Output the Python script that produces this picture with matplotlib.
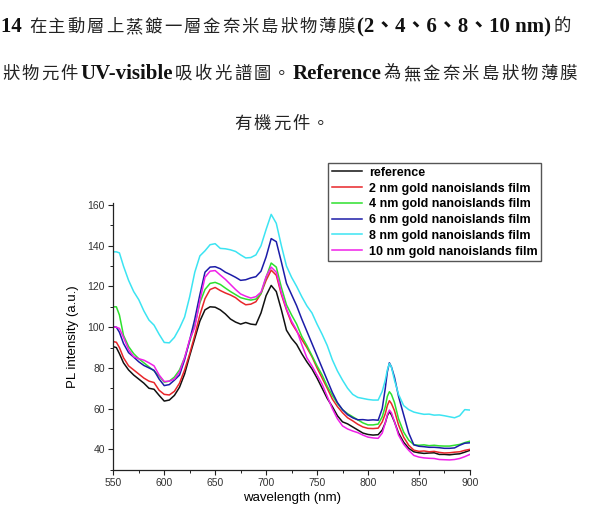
import matplotlib
matplotlib.use("Agg")
import matplotlib.pyplot as plt
from matplotlib.ticker import MultipleLocator

# wavelength grid (nm)
wavelength = [
    550, 553, 556, 560, 565, 570, 575, 580, 585, 590,
    595, 600, 605, 610, 615, 620, 625, 630, 635, 640,
    645, 650, 655, 660, 665, 670, 675, 680, 685, 690,
    695, 700, 705, 710, 715, 720, 725, 730, 735, 740,
    745, 750, 755, 760, 765, 770, 775, 780, 785, 790,
    795, 800, 805, 810, 814, 817, 819, 821, 823, 826,
    830, 835, 840, 845, 850, 855, 860, 865, 870, 875,
    880, 885, 890, 895, 900,
]

reference = [
    90.4, 90.0, 87.0, 82.5, 79.0, 76.5, 74.5, 72.5, 70.0, 69.5,
    66.5, 63.7, 64.2, 66.5, 70.5, 77.0, 86.0, 94.5, 103.0, 108.5,
    110.0, 109.8, 108.5, 106.5, 104.0, 102.5, 101.5, 102.3, 101.5, 101.2,
    107.0, 115.5, 120.5, 117.5, 108.5, 98.5, 94.5, 91.5, 87.0, 83.0,
    79.5, 75.0, 70.0, 65.0, 61.0, 56.5, 53.5, 52.5, 51.0, 49.5,
    48.0, 47.3, 47.0, 47.2, 49.5, 53.0, 56.5, 58.5, 57.0, 53.5,
    48.0, 43.5, 40.5, 38.8, 38.3, 38.0, 38.2, 38.3, 37.5, 37.5,
    37.3, 37.6, 37.8, 38.6, 39.5,
]

film_2nm = [
    92.9, 92.6, 90.0, 85.0, 81.0, 79.0, 77.0, 75.0, 73.5, 72.8,
    69.0, 67.0, 66.7, 68.5, 72.5, 79.0, 87.0, 96.0, 106.0, 114.0,
    118.5, 119.5, 118.0, 116.8, 115.8, 114.5, 112.5, 111.0, 111.3, 112.5,
    116.5, 123.0, 128.0, 125.5, 116.0, 108.5, 102.0, 98.0, 94.0, 90.0,
    85.5, 80.0, 75.0, 70.0, 64.7, 61.0, 58.0, 55.5, 54.0, 52.3,
    51.0, 50.3, 50.2, 50.4, 53.5, 57.5, 61.5, 63.9, 62.5, 59.0,
    52.0, 46.0, 42.0, 39.6, 39.0, 39.2, 38.8, 39.0, 38.5, 38.2,
    38.3, 38.6, 38.8, 39.5, 40.0,
]

film_4nm = [
    110.0, 110.0, 106.0, 96.0, 90.5, 87.0, 84.5, 82.5, 80.5, 78.5,
    76.0, 73.0, 73.5, 75.5, 79.0, 85.0, 93.0, 101.0, 112.0, 118.5,
    121.5, 122.0, 121.0, 119.2, 117.5, 116.0, 114.5, 113.8, 113.3, 113.8,
    116.5, 124.5, 131.5, 129.5, 119.5, 111.0, 106.0, 101.5, 95.5, 91.0,
    86.0, 81.0, 76.5, 71.0, 66.5, 62.5, 59.5, 57.5, 56.0, 54.5,
    53.0, 52.0, 52.0, 52.4, 56.0, 61.0, 66.0, 68.3, 67.0, 63.0,
    55.0, 48.5, 44.5, 42.3, 42.0, 42.2, 41.8, 42.0, 41.7, 41.6,
    41.6, 42.0, 42.4, 43.3, 44.0,
]

film_6nm = [
    100.2, 100.0, 97.5, 92.0, 87.5, 85.3, 83.0, 81.2, 80.0, 78.8,
    74.5, 71.3, 71.8, 74.0, 76.5, 84.0, 93.7, 104.0, 116.0, 127.0,
    129.5, 129.7, 128.7, 127.0, 125.8, 124.5, 123.0, 123.3, 124.2, 124.8,
    127.5, 134.5, 143.5, 142.0, 132.0, 121.5, 116.0, 110.5, 104.0, 98.0,
    92.0, 86.0, 80.0, 74.0, 68.0, 63.0, 59.5, 57.0, 55.5, 54.5,
    54.6, 54.3, 54.5, 54.3, 60.0, 70.0, 78.0, 82.5, 80.5, 75.5,
    66.0, 57.0, 48.0, 42.2, 41.5, 41.3, 41.0, 41.0, 40.8, 40.5,
    40.5, 40.7, 42.0, 43.0, 43.2,
]

film_8nm = [
    137.0, 137.0, 136.5, 130.0, 123.0, 117.5, 113.5, 108.0, 103.5, 101.0,
    96.5, 92.5, 92.3, 95.0, 99.5, 105.0, 115.0, 127.0, 135.0, 137.5,
    140.5, 141.0, 138.7, 138.5, 138.0, 137.2, 135.5, 134.0, 134.2, 135.5,
    140.0, 148.0, 155.4, 151.0, 140.0, 130.0, 124.5, 120.0, 115.0, 110.5,
    107.0, 101.5, 96.5, 91.0, 84.0, 78.5, 74.0, 70.0, 67.0, 65.5,
    65.0, 64.5, 64.2, 64.2, 68.5, 74.0, 79.0, 82.2, 80.5, 74.0,
    67.0, 61.5, 59.5, 58.3, 57.7, 57.2, 57.3, 56.8, 56.9, 56.5,
    56.0, 55.5, 56.5, 59.5, 59.3,
]

film_10nm = [
    100.0, 100.0, 99.4, 95.0, 89.0, 85.5, 84.5, 83.8, 82.5, 81.0,
    76.5, 73.3, 73.5, 74.5, 78.0, 85.0, 94.0, 100.0, 113.0, 124.5,
    127.5, 127.8, 125.6, 123.5, 121.0, 118.5, 116.3, 115.2, 114.3, 115.0,
    117.2, 124.8, 129.5, 127.0, 117.0, 109.0, 103.0, 98.5, 91.5, 85.0,
    81.0, 76.5, 72.0, 66.0, 60.0, 55.0, 51.5, 50.0, 49.0, 48.2,
    47.0, 46.0, 45.6, 45.4, 48.0, 53.0, 57.0, 59.3, 58.0, 53.6,
    47.0, 42.5, 39.5, 37.0, 36.2, 35.8, 35.6, 35.5, 35.0, 34.9,
    34.8, 35.0, 35.5, 36.4, 37.5,
]

labels = [
    "reference",
    "2 nm gold nanoislands film",
    "4 nm gold nanoislands film",
    "6 nm gold nanoislands film",
    "8 nm gold nanoislands film",
    "10 nm gold nanoislands film",
]
colors = ["#111111", "#e8262a", "#2ee02e", "#1c1ca8", "#3ce4f2", "#f020e8"]
spectra = [reference, film_2nm, film_4nm, film_6nm, film_8nm, film_10nm]

fig = plt.figure(figsize=(5.91, 5.17), dpi=100)
ax = fig.add_axes([0.1917, 0.0915, 0.6033, 0.5159])

for vals, col, lab in zip(spectra, colors, labels):
    ax.plot(wavelength, vals, color=col, lw=1.1, label=lab)

ax.set_xlim(550, 900)
ax.set_ylim(30, 161)
ax.spines["top"].set_visible(False)
ax.spines["right"].set_visible(False)
for s in ("left", "bottom"):
    ax.spines[s].set_color("#222222")
    ax.spines[s].set_linewidth(0.9)

ax.xaxis.set_major_locator(MultipleLocator(50))
ax.xaxis.set_minor_locator(MultipleLocator(25))
ax.yaxis.set_major_locator(MultipleLocator(20))
ax.yaxis.set_minor_locator(MultipleLocator(10))
ax.tick_params(which="major", direction="out", length=3.5, width=0.8,
               labelsize=7.5, labelcolor="#333333", color="#222222", pad=2.5)
ax.tick_params(which="minor", direction="out", length=2.2, width=0.7, color="#222222")
for lbl in ax.get_xticklabels() + ax.get_yticklabels():
    lbl.set_family("Liberation Sans")

ax.set_xlabel("wavelength (nm)", fontsize=9.5, family="Liberation Sans", labelpad=3)
ax.set_ylabel("PL intensity (a.u.)", fontsize=9.5, family="Liberation Sans", labelpad=6)

leg = ax.legend(loc="upper right", bbox_to_anchor=(0.9154, 0.6847),
                bbox_transform=fig.transFigure, borderaxespad=0,
                prop={"family": "Liberation Sans", "weight": "bold", "size": 9},
                frameon=True, fancybox=False, framealpha=1, edgecolor="#555555",
                handlelength=2.4, handletextpad=0.55, labelspacing=0.3,
                borderpad=0.3)
leg.get_frame().set_linewidth(1.0)

# caption text above the chart
cjk = ["Noto Sans CJK TC", "DejaVu Sans"]
latin = ["Liberation Serif", "Noto Sans CJK TC"]
renderer = fig.canvas.get_renderer()
W, H = 591.0, 517.0


def draw_line(segments, x0, y, pitch):
    x = x0
    for txt, kind in segments:
        if kind == "cjk":
            for ch in txt:
                fig.text(x / W, 1 - y / H, ch, family=cjk, fontsize=12.5,
                         color="#222222", va="center", ha="left")
                x += pitch
        else:
            t = fig.text(x / W, 1 - y / H, txt, family=latin,
                         weight="bold", fontsize=15, color="#111111",
                         va="center", ha="left")
            x += t.get_window_extent(renderer).width + 2


draw_line([("14 ", "lat"), ("在主動層上蒸鍍一層金奈米島狀物薄膜", "cjk"),
           ("(2、4、6、8、10 nm)", "lat"), ("的", "cjk")], 1, 27, 19.3)
draw_line([("狀物元件", "cjk"), ("UV-visible", "lat"), ("吸收光譜圖。", "cjk"),
           ("Reference", "lat"), ("為無金奈米島狀物薄膜", "cjk")], 2, 74, 19.6)
draw_line([("有機元件。", "cjk")], 234, 124, 19.5)

fig.savefig("out.png", dpi=100)
